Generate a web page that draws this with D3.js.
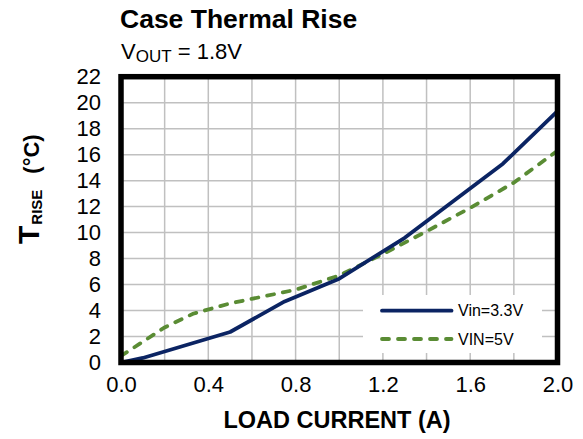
<!DOCTYPE html>
<html>
<head>
<meta charset="utf-8">
<script src="https://cdn.jsdelivr.net/npm/d3@7"></script>
<style>
  html, body { margin: 0; padding: 0; background: #fff; }
  svg { display: block; font-family: Arial, "Liberation Sans", sans-serif; }
</style>
</head>
<body>
<svg id="chart" width="583" height="439"></svg>
<script>
// ---- data ----
const loadCurrent33 = [0, 0.1, 0.5, 0.75, 1.0, 1.3, 1.75, 2.0];
const tRise33       = [0, 0.35, 2.35, 4.7, 6.45, 9.6, 15.3, 19.35];
const loadCurrent5  = [0, 0.2, 0.33, 0.5, 0.8, 1.0, 1.2, 1.4, 1.6, 1.8, 2.0];
const tRise5        = [0.5, 2.7, 3.75, 4.55, 5.6, 6.7, 8.35, 10.1, 11.9, 13.85, 16.3];
const xTicks = [0, 0.4, 0.8, 1.2, 1.6, 2.0];
const xGrid  = [0.2, 0.4, 0.6, 0.8, 1.0, 1.2, 1.4, 1.6, 1.8];
const yTicks = [0, 2, 4, 6, 8, 10, 12, 14, 16, 18, 20, 22];
const seriesNames = ["Vin=3.3V", "VIN=5V"];
const seriesColors = ["#0b2463", "#5a8c34"];

const svg = d3.select("#chart");
const L = 121, R = 557.5, T = 76.7, B = 362.5;
const x = d3.scaleLinear().domain([0, 2]).range([L, R]);
const y = d3.scaleLinear().domain([0, 22]).range([B, T]);

// Titles
svg.append("text").attr("x", 120).attr("y", 28)
  .attr("font-size", 26.5).attr("font-weight", "bold").text("Case Thermal Rise");
const sub = svg.append("text").attr("x", 121).attr("y", 58.5).attr("font-size", 22);
sub.append("tspan").text("V");
sub.append("tspan").attr("font-size", 17).attr("dy", 3.5).text("OUT");
sub.append("tspan").attr("dy", -3.5).text(" = 1.8V");

// grid
const g = svg.append("g");
g.selectAll(".vg").data(xGrid).enter().append("line")
  .attr("x1", d => x(d)).attr("x2", d => x(d)).attr("y1", T).attr("y2", B)
  .attr("stroke", "#c0c0c0").attr("stroke-width", 1.5);
g.selectAll(".hg").data(yTicks.slice(1, -1)).enter().append("line")
  .attr("x1", L).attr("x2", R).attr("y1", d => y(d)).attr("y2", d => y(d))
  .attr("stroke", "#c0c0c0").attr("stroke-width", 1.5);

// legend background (covers grid)
svg.append("rect").attr("x", 363).attr("y", 295).attr("width", 179).attr("height", 58).attr("fill", "#fff");

// axes
const xAxis = svg.append("g").attr("transform", `translate(0,${B})`)
  .call(d3.axisBottom(x).tickValues(xTicks).tickFormat(d3.format(".1f")).tickSize(0).tickPadding(14));
const yAxis = svg.append("g").attr("transform", `translate(${L},0)`)
  .call(d3.axisLeft(y).tickValues(yTicks).tickFormat(d3.format("d")).tickSize(0).tickPadding(20));
[xAxis, yAxis].forEach(a => {
  a.select(".domain").remove();
  a.selectAll("text").attr("font-size", 22).attr("fill", "#000")
    .attr("font-family", "Arial, 'Liberation Sans', sans-serif");
});

// lines
const line = d3.line().x(d => x(d[0])).y(d => y(d[1]));
const d33 = loadCurrent33.map((v, i) => [v, tRise33[i]]);
const d5 = loadCurrent5.map((v, i) => [v, tRise5[i]]);
svg.append("path").datum(d5).attr("d", line).attr("fill", "none")
  .attr("stroke", seriesColors[1]).attr("stroke-width", 3.8)
  .attr("stroke-dasharray", "7,9").attr("stroke-linecap", "round");
svg.append("path").datum(d33).attr("d", line).attr("fill", "none")
  .attr("stroke", seriesColors[0]).attr("stroke-width", 3.8).attr("stroke-linejoin", "round");

// frame
svg.append("rect").attr("x", L).attr("y", T).attr("width", R - L).attr("height", B - T)
  .attr("fill", "none").attr("stroke", "#000").attr("stroke-width", 5.5);

// legend
const leg = svg.append("g");
[0, 1].forEach(i => {
  const ly = [310.7, 339][i];
  leg.append("line").attr("x1", 382).attr("x2", 451.5).attr("y1", ly).attr("y2", ly)
    .attr("stroke", seriesColors[i]).attr("stroke-width", 3.8).attr("stroke-linecap", "round")
    .attr("stroke-dasharray", i === 1 ? "7,9" : null);
  leg.append("text").attr("x", 458).attr("y", ly + 5.7).attr("font-size", 16).text(seriesNames[i]);
});

// axis titles
svg.append("text").attr("x", 337).attr("y", 428).attr("text-anchor", "middle")
  .attr("font-size", 23.5).attr("font-weight", "bold").text("LOAD CURRENT (A)");
const yl = svg.append("text").attr("transform", "translate(38.5,244) rotate(-90)")
  .attr("font-weight", "bold").attr("font-size", 30);
yl.append("tspan").text("T");
yl.append("tspan").attr("font-size", 15).attr("dy", 3).attr("dx", 1).text("RISE");
yl.append("tspan").attr("font-size", 22).attr("dy", -3).attr("dx", 16).text("(°C)");
</script>
</body>
</html>
